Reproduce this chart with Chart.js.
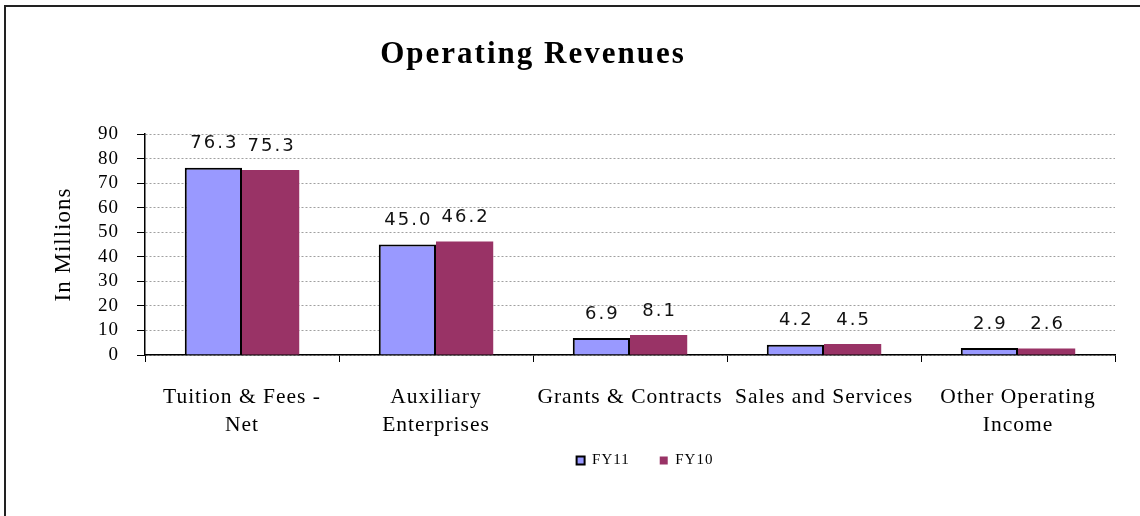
<!DOCTYPE html>
<html>
<head>
<meta charset="utf-8">
<script src="https://cdn.jsdelivr.net/npm/chart.js@4.4.1/dist/chart.umd.min.js"></script>
<style>
  html, body { margin: 0; padding: 0; background: #ffffff; }
  #wrap { width: 1140px; height: 516px; position: relative; }
</style>
</head>
<body>
<div id="wrap"><canvas id="c" width="1140" height="516"></canvas></div>
<script>
const chartTitle = "Operating Revenues";
const categories = [["Tuition & Fees -", "Net"], ["Auxiliary", "Enterprises"], "Grants & Contracts", "Sales and Services", ["Other Operating", "Income"]];
const seriesNames = ["FY11", "FY10"];
const fy11Values = [76.3, 45.0, 6.9, 4.2, 2.9];
const fy10Values = [75.3, 46.2, 8.1, 4.5, 2.6];
const yAxisTitle = "In Millions";
const yMin = 0, yMax = 90, yStep = 10;

const spacingPlugin = {
  id: 'spacing',
  beforeUpdate(chart) { try { chart.ctx.letterSpacing = '1px'; } catch (e) {} },
  beforeDraw(chart) { try { chart.ctx.letterSpacing = '1px'; } catch (e) {} },
  afterLayout(chart) {
    const lg = chart.legend;
    if (lg) {
      lg.left += 15; lg.right += 15;
      lg.top -= 16; lg.bottom -= 16;
    }
  }
};

const framePlugin = {
  id: 'frame',
  beforeDraw(chart) {
    const ctx = chart.ctx;
    ctx.save();
    ctx.fillStyle = '#ffffff';
    ctx.fillRect(0, 0, chart.width, chart.height);
    ctx.strokeStyle = '#222222';
    ctx.lineWidth = 2;
    ctx.beginPath();
    ctx.moveTo(5, chart.height + 2);
    ctx.lineTo(5, 6);
    ctx.lineTo(chart.width + 2, 6);
    ctx.stroke();
    ctx.restore();
  }
};

const titlePlugin = {
  id: 'customTitle',
  afterDraw(chart) {
    const ctx = chart.ctx;
    ctx.save();
    ctx.font = 'bold 31px "Liberation Serif"';
    try { ctx.letterSpacing = '2px'; } catch (e) {}
    ctx.fillStyle = '#000000';
    ctx.textAlign = 'center';
    ctx.textBaseline = 'middle';
    ctx.fillText(chartTitle, 533, 55);
    ctx.restore();
  }
};

const valueLabelPlugin = {
  id: 'valueLabels',
  afterDatasetsDraw(chart) {
    const ctx = chart.ctx;
    ctx.save();
    ctx.font = '18px "DejaVu Sans"';
    try { ctx.letterSpacing = '2px'; } catch (e) {}
    ctx.fillStyle = '#111111';
    ctx.textAlign = 'center';
    ctx.textBaseline = 'middle';
    chart.data.datasets.forEach((ds, di) => {
      const meta = chart.getDatasetMeta(di);
      meta.data.forEach((bar, i) => {
        ctx.fillText(ds.data[i].toFixed(1), bar.x + 1, bar.y - 24);
      });
    });
    ctx.restore();
  }
};

new Chart(document.getElementById('c'), {
  type: 'bar',
  data: {
    labels: categories,
    datasets: [
      {
        label: seriesNames[0],
        data: fy11Values,
        backgroundColor: '#9999FF',
        borderColor: '#000000',
        borderWidth: 2,
        borderSkipped: 'bottom'
      },
      {
        label: seriesNames[1],
        data: fy10Values,
        backgroundColor: '#993366',
        borderColor: '#993366',
        borderWidth: 0
      }
    ]
  },
  options: {
    responsive: false,
    animation: false,
    devicePixelRatio: 1,
    layout: { padding: { left: 50, right: 25, top: 134, bottom: 22 } },
    datasets: { bar: { categoryPercentage: 0.59, barPercentage: 1.0 } },
    plugins: {
      title: { display: false },
      tooltip: { enabled: false },
      legend: {
        display: true,
        position: 'bottom',
        fullSize: false,
        labels: {
          boxWidth: 8,
          boxHeight: 8,
          padding: 30,
          color: '#000000',
          font: { family: '"Liberation Serif"', size: 15 },
          generateLabels(chart) {
            return chart.data.datasets.map((ds, i) => ({
              text: ds.label,
              fillStyle: ds.backgroundColor,
              strokeStyle: i === 0 ? '#000000' : ds.backgroundColor,
              lineWidth: i === 0 ? 2 : 0,
              hidden: false,
              datasetIndex: i,
              fontColor: '#000000'
            }));
          }
        }
      }
    },
    scales: {
      x: {
        offset: true,
        afterFit(scale) { scale.height = 84; },
        grid: {
          display: true,
          offset: true,
          drawOnChartArea: false,
          drawTicks: true,
          tickLength: 7,
          tickColor: '#000000',
          color: '#000000'
        },
        border: { display: true, color: '#000000', width: 1.5 },
        ticks: {
          color: '#000000',
          padding: 21,
          maxRotation: 0,
          autoSkip: false,
          font: { family: '"Liberation Serif"', size: 21.5, lineHeight: 1.3 }
        }
      },
      y: {
        min: yMin,
        max: yMax,
        afterFit(scale) { scale.width = 95; },
        grid: {
          display: true,
          drawOnChartArea: true,
          drawTicks: true,
          tickLength: 8,
          tickColor: '#000000',
          tickBorderDash: [],
          color: '#a0a0a0',
          lineWidth: 1
        },
        border: { display: true, color: '#000000', width: 1.5, dash: [2, 2] },
        title: {
          display: true,
          text: yAxisTitle,
          color: '#000000',
          padding: { top: 0, bottom: 0 },
          font: { family: '"Liberation Serif"', size: 23 }
        },
        ticks: {
          stepSize: yStep,
          autoSkip: false,
          color: '#000000',
          padding: 18,
          font: { family: '"Liberation Serif"', size: 19 }
        }
      }
    }
  },
  plugins: [spacingPlugin, framePlugin, titlePlugin, valueLabelPlugin]
});
</script>
</body>
</html>
